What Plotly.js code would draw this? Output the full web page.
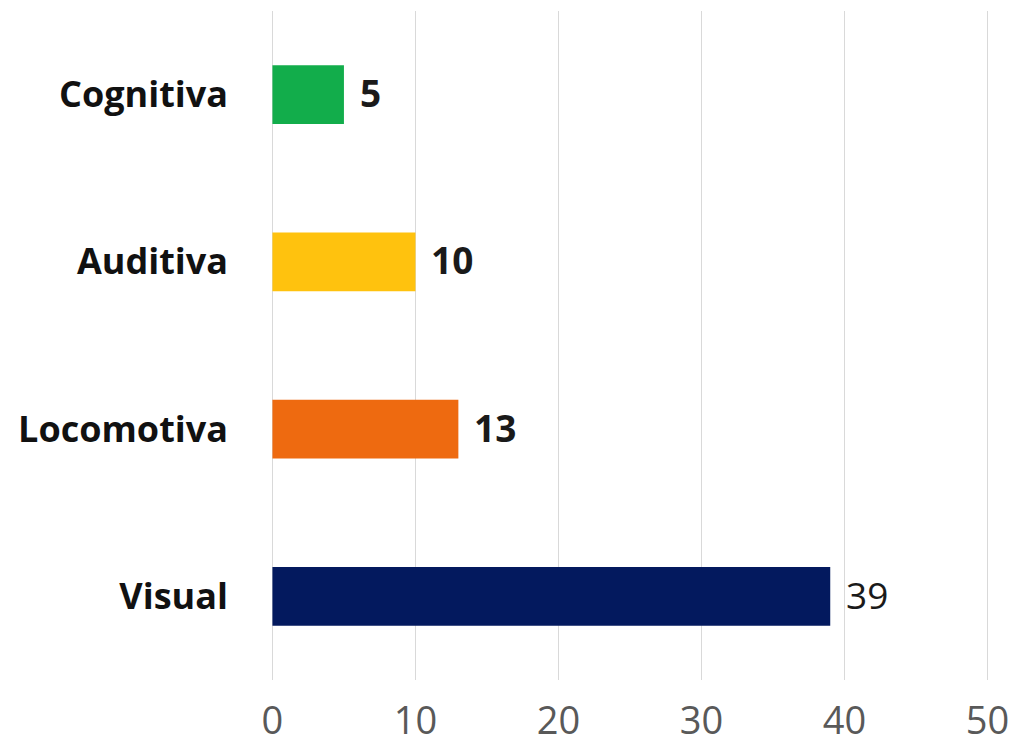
<!DOCTYPE html>
<html>
<head>
<meta charset="utf-8">
<script src="https://cdn.plot.ly/plotly-3.0.1.min.js"></script>
<style>html,body{margin:0;padding:0;background:#fff;}#chart{width:1012px;height:752px;}</style>
</head>
<body>
<div id="chart"></div>
<script>
const categories = ["Visual", "Locomotiva", "Auditiva", "Cognitiva"];
const values = [39, 13, 10, 5];
const colors = ["#03195E", "#EE6A10", "#FFC20E", "#12AD4B"];
const xTickValues = [0, 10, 20, 30, 40, 50];
const xTickLabels = ["0", "10", "20", "30", "40", "50"];
const labelBold = [false, true, true, true];

const trace = {
  type: "bar",
  orientation: "h",
  y: categories,
  x: values,
  marker: { color: colors, line: { width: 0 } },
  hoverinfo: "skip",
  showlegend: false
};

const annotations = values.map((v, i) => ({
  x: v,
  y: categories[i],
  xref: "x",
  yref: "y",
  text: labelBold[i] ? "<b>" + v + "</b>" : String(v),
  showarrow: false,
  xanchor: "left",
  yanchor: "middle",
  xshift: 14,
  yshift: 2,
  font: { family: "Open Sans, sans-serif", size: 37, color: "#1a1a1a" }
}));

const layout = {
  width: 1012,
  height: 752,
  margin: { l: 271, r: 23, t: 11, b: 72 },
  paper_bgcolor: "#ffffff",
  plot_bgcolor: "#ffffff",
  bargap: 0.65,
  xaxis: {
    range: [-0.1, 50.1],
    tickvals: xTickValues,
    ticktext: xTickLabels,
    showgrid: true,
    gridcolor: "#d9d9d9",
    gridwidth: 1.5,
    zeroline: false,
    showline: false,
    ticks: "",
    ticklabelstandoff: 15,
    ticklabeloverflow: "allow",
    tickfont: { family: "Open Sans, sans-serif", size: 38, color: "#595959" },
    fixedrange: true
  },
  yaxis: {
    categoryorder: "array",
    categoryarray: categories,
    showgrid: false,
    zeroline: false,
    showline: false,
    ticks: "",
    ticklabelstandoff: 42,
    tickfont: { family: "Open Sans, sans-serif", size: 36, color: "#111111", weight: "bold" },
    fixedrange: true
  },
  annotations: annotations
};

Plotly.newPlot("chart", [trace], layout, { displayModeBar: false, staticPlot: true });
</script>
</body>
</html>
